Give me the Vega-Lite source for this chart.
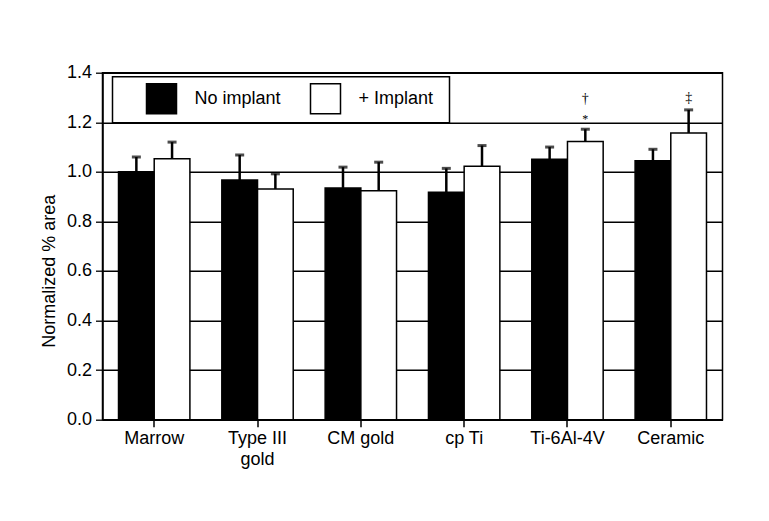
{
  "$schema": "https://vega.github.io/schema/vega-lite/v6.json",
  "width": 620,
  "height": 347,
  "autosize": "none",
  "padding": {"left": 102.5, "top": 72.7, "right": 46.5, "bottom": 101.3},
  "background": "white",
  "config": {
    "font": "Liberation Sans",
    "view": {"stroke": "black", "strokeWidth": 1.5},
    "legend": {"strokeWidth": 1.5}
  },
  "datasets": {
    "bars": [
      {"material": "Marrow", "group": "No implant", "mean": 1.0, "upper": 1.06},
      {"material": "Marrow", "group": "+ Implant", "mean": 1.053, "upper": 1.12},
      {"material": "Type III gold", "group": "No implant", "mean": 0.967, "upper": 1.068},
      {"material": "Type III gold", "group": "+ Implant", "mean": 0.931, "upper": 0.992},
      {"material": "CM gold", "group": "No implant", "mean": 0.935, "upper": 1.019},
      {"material": "CM gold", "group": "+ Implant", "mean": 0.924, "upper": 1.039},
      {"material": "cp Ti", "group": "No implant", "mean": 0.918, "upper": 1.014},
      {"material": "cp Ti", "group": "+ Implant", "mean": 1.023, "upper": 1.106},
      {"material": "Ti-6Al-4V", "group": "No implant", "mean": 1.051, "upper": 1.1},
      {"material": "Ti-6Al-4V", "group": "+ Implant", "mean": 1.122, "upper": 1.172},
      {"material": "Ceramic", "group": "No implant", "mean": 1.045, "upper": 1.091},
      {"material": "Ceramic", "group": "+ Implant", "mean": 1.157, "upper": 1.25}
    ],
    "notes": [
      {"material": "Ti-6Al-4V", "group": "+ Implant", "pos": 1.294, "mark": "†", "size": 14},
      {"material": "Ti-6Al-4V", "group": "+ Implant", "pos": 1.212, "mark": "*", "size": 12},
      {"material": "Ceramic", "group": "+ Implant", "pos": 1.298, "mark": "‡", "size": 14}
    ]
  },
  "layer": [
    {
      "data": {"name": "bars"},
      "mark": {"type": "bar", "stroke": "black", "strokeWidth": 1.5},
      "encoding": {
        "x": {
          "field": "material", "type": "nominal",
          "scale": {"domain": ["Marrow", "Type III gold", "CM gold", "cp Ti", "Ti-6Al-4V", "Ceramic"], "paddingInner": 0.309, "paddingOuter": 0.155},
          "axis": {
            "title": null, "labelAngle": 0, "labelFontSize": 18, "labelColor": "black",
            "labelPadding": 3, "labelLineHeight": 21,
            "labelExpr": "datum.label == 'Type III gold' ? ['Type III', 'gold'] : datum.label",
            "tickSize": 7, "tickColor": "black", "tickWidth": 1.5,
            "domainColor": "black", "domainWidth": 1.5, "grid": false
          }
        },
        "xOffset": {
          "field": "group", "type": "nominal",
          "scale": {"domain": ["No implant", "+ Implant"], "paddingInner": 0, "paddingOuter": 0}
        },
        "y": {
          "field": "mean", "type": "quantitative",
          "scale": {"domain": [0, 1.4], "nice": false, "zero": true},
          "axis": {
            "title": "Normalized % area",
            "titleFontSize": 18, "titleFontWeight": "normal", "titleColor": "black",
            "titleX": -44, "titleY": 198, "titleAngle": -90, "titleAlign": "center", "titleBaseline": "bottom",
            "values": [0, 0.05, 0.1, 0.15, 0.2, 0.25, 0.3, 0.35, 0.4, 0.45, 0.5, 0.55, 0.6, 0.65, 0.7, 0.75, 0.8, 0.85, 0.9, 0.95, 1.0, 1.05, 1.1, 1.15, 1.2, 1.25, 1.3, 1.35, 1.4],
            "labelExpr": "round(datum.value * 100) % 20 == 0 ? format(datum.value, '.1f') : ''",
            "labelFontSize": 18, "labelColor": "black", "labelPadding": 4,
            "tickColor": "black",
            "tickWidth": 1.3,
            "tickSize": {"condition": {"test": "round(datum.value * 100) % 20 == 0", "value": 7}, "value": 4},
            "grid": true, "gridColor": "black", "gridWidth": 1.5,
            "gridOpacity": {"condition": {"test": "round(datum.value * 100) % 20 == 0", "value": 1}, "value": 0},
            "domainColor": "black", "domainWidth": 1.5
          }
        },
        "fill": {
          "field": "group", "type": "nominal",
          "scale": {"domain": ["No implant", "+ Implant"], "range": ["black", "white"]},
          "legend": {
            "orient": "none", "legendX": 10, "legendY": 4, "direction": "horizontal",
            "title": " ", "titleOrient": "right", "titlePadding": 10, "titleFontSize": 18,
            "strokeColor": "black", "fillColor": "white", "padding": 6,
            "symbolType": "square", "symbolSize": 900, "symbolStrokeColor": "black", "symbolStrokeWidth": 1.5,
            "symbolOffset": 27,
            "labelFontSize": 18, "labelColor": "black", "labelOffset": 17, "columnPadding": 1
          }
        }
      }
    },
    {
      "data": {"name": "bars"},
      "mark": {"type": "rule", "color": "black", "strokeWidth": 2.5},
      "encoding": {
        "x": {"field": "material", "type": "nominal"},
        "xOffset": {"field": "group", "type": "nominal"},
        "y": {"field": "mean", "type": "quantitative"},
        "y2": {"field": "upper"}
      }
    },
    {
      "data": {"name": "bars"},
      "mark": {"type": "tick", "color": "black", "thickness": 3, "size": 9},
      "encoding": {
        "x": {"field": "material", "type": "nominal"},
        "xOffset": {"field": "group", "type": "nominal"},
        "y": {"field": "upper", "type": "quantitative"}
      }
    },
    {
      "data": {"name": "notes"},
      "mark": {"type": "text", "font": "Liberation Serif", "color": "black", "fill": "black", "baseline": "middle"},
      "encoding": {
        "x": {"field": "material", "type": "nominal"},
        "xOffset": {"field": "group", "type": "nominal"},
        "y": {"field": "pos", "type": "quantitative"},
        "text": {"field": "mark"},
        "size": {"field": "size", "type": "quantitative", "scale": null}
      }
    }
  ]
}
